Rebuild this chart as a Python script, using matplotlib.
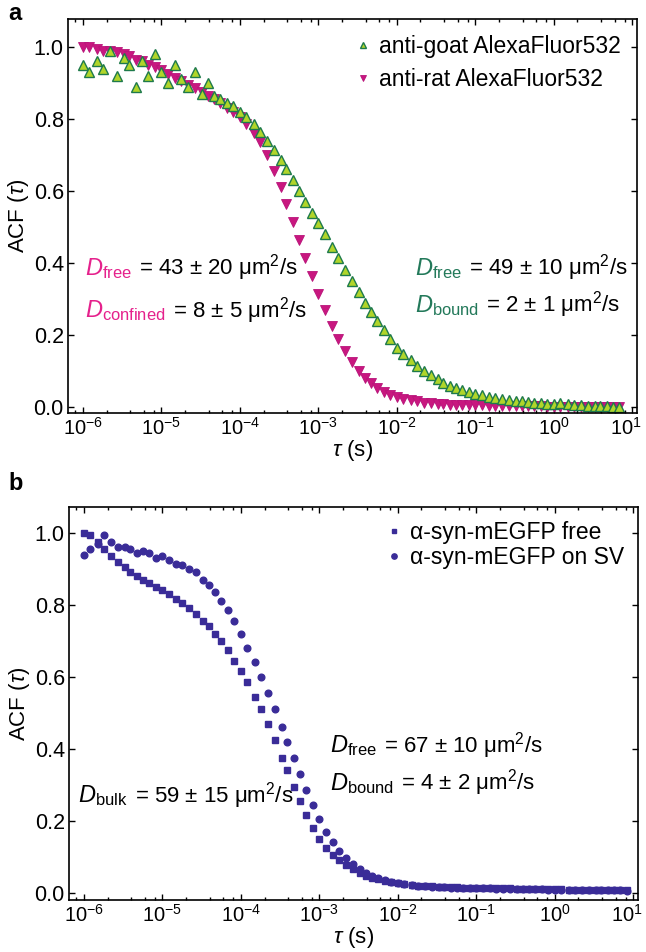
import matplotlib.pyplot as plt
from matplotlib.offsetbox import TextArea, HPacker, AnnotationBbox
from matplotlib.ticker import FixedLocator, NullFormatter, MultipleLocator, LogFormatterSciNotation
from matplotlib.transforms import ScaledTranslation

plt.rcParams['font.family'] = ['Liberation Sans', 'DejaVu Sans']
plt.rcParams['mathtext.fontset'] = 'custom'
plt.rcParams['mathtext.rm'] = 'Liberation Sans'
plt.rcParams['mathtext.it'] = 'Liberation Sans:italic'
plt.rcParams['mathtext.bf'] = 'Liberation Sans:bold'

# lag times (s), 12 points per decade
tau = [
    1.0e-6, 1.2e-6, 1.5e-6, 1.8e-6, 2.2e-6, 2.7e-6, 3.3e-6, 3.9e-6, 4.7e-6, 5.6e-6, 6.8e-6, 8.2e-6,
    1.0e-5, 1.2e-5, 1.5e-5, 1.8e-5, 2.2e-5, 2.7e-5, 3.3e-5, 3.9e-5, 4.7e-5, 5.6e-5, 6.8e-5, 8.2e-5,
    1.0e-4, 1.2e-4, 1.5e-4, 1.8e-4, 2.2e-4, 2.7e-4, 3.3e-4, 3.9e-4, 4.7e-4, 5.6e-4, 6.8e-4, 8.2e-4,
    1.0e-3, 1.2e-3, 1.5e-3, 1.8e-3, 2.2e-3, 2.7e-3, 3.3e-3, 3.9e-3, 4.7e-3, 5.6e-3, 6.8e-3, 8.2e-3,
    1.0e-2, 1.2e-2, 1.5e-2, 1.8e-2, 2.2e-2, 2.7e-2, 3.3e-2, 3.9e-2, 4.7e-2, 5.6e-2, 6.8e-2, 8.2e-2,
    1.0e-1, 1.2e-1, 1.5e-1, 1.8e-1, 2.2e-1, 2.7e-1, 3.3e-1, 3.9e-1, 4.7e-1, 5.6e-1, 6.8e-1, 8.2e-1,
    1.0e0, 1.2e0, 1.5e0, 1.8e0, 2.2e0, 2.7e0, 3.3e0, 3.9e0, 4.7e0, 5.6e0, 6.8e0, 8.2e0,
]
decades = [1e-6, 1e-5, 1e-4, 1e-3, 1e-2, 1e-1, 1e0, 1e1]
minor_ticks = [m * d for d in [1e-7] + decades[:-1] for m in (2, 4, 6, 8)]

# panel a
acf_goat = [
    0.95, 0.93, 0.96, 0.94, 0.99, 0.92, 0.97, 0.95, 0.89, 0.96, 0.92, 0.98,
    0.93, 0.90, 0.95, 0.91, 0.89, 0.93, 0.87, 0.90, 0.865, 0.855, 0.845, 0.835,
    0.82, 0.805, 0.785, 0.765, 0.74, 0.715, 0.685, 0.66, 0.63, 0.60, 0.57, 0.54,
    0.51, 0.48, 0.445, 0.415, 0.38, 0.35, 0.32, 0.29, 0.265, 0.24, 0.215, 0.19,
    0.165, 0.148, 0.13, 0.115, 0.10, 0.088, 0.077, 0.067, 0.059, 0.052, 0.046, 0.04,
    0.036, 0.032, 0.028, 0.025, 0.022, 0.019, 0.017, 0.015, 0.013, 0.011, 0.010, 0.009,
    0.008, 0.010, 0.007, 0.005, 0.004, 0.003, 0.003, 0.002, 0.002, 0.001, 0.001,
]
acf_rat = [
    1.00, 1.00, 0.995, 0.99, 0.99, 0.985, 0.98, 0.975, 0.965, 0.96, 0.95, 0.945,
    0.935, 0.925, 0.915, 0.905, 0.895, 0.885, 0.875, 0.865, 0.855, 0.845, 0.83, 0.82,
    0.805, 0.785, 0.76, 0.735, 0.70, 0.655, 0.61, 0.565, 0.515, 0.465, 0.415, 0.365,
    0.315, 0.27, 0.225, 0.19, 0.155, 0.125, 0.10, 0.08, 0.065, 0.052, 0.042, 0.034,
    0.027, 0.022, 0.018, 0.015, 0.012, 0.010, 0.008, 0.007, 0.006, 0.005, 0.005, 0.004,
    0.004, 0.004, 0.003, 0.003, 0.003, 0.003, 0.002, 0.002, 0.002, 0.002, 0.002, 0.001,
    0.001, 0.001, 0.001, 0.001, 0.001, 0.000, 0.000, 0.000, 0.000, 0.000, 0.000,
]

# panel b
acf_free = [
    1.00, 0.995, 0.975, 0.955, 0.935, 0.92, 0.905, 0.89, 0.88, 0.87, 0.86, 0.85,
    0.84, 0.83, 0.815, 0.805, 0.79, 0.775, 0.755, 0.74, 0.72, 0.70, 0.675, 0.645,
    0.615, 0.585, 0.545, 0.51, 0.47, 0.425, 0.375, 0.34, 0.295, 0.255, 0.215, 0.18,
    0.15, 0.125, 0.105, 0.09, 0.077, 0.065, 0.056, 0.048, 0.042, 0.037, 0.033, 0.029,
    0.026, 0.024, 0.022, 0.020, 0.019, 0.018, 0.017, 0.016, 0.015, 0.015, 0.014, 0.014,
    0.013, 0.013, 0.013, 0.012, 0.012, 0.012, 0.011, 0.011, 0.011, 0.011, 0.010, 0.010,
    0.010, 0.010, 0.009, 0.009, 0.009, 0.009, 0.008, 0.008, 0.008, 0.008, 0.007, 0.007,
]
acf_sv = [
    0.94, 0.955, 0.97, 0.995, 0.975, 0.96, 0.96, 0.955, 0.945, 0.95, 0.945, 0.93,
    0.935, 0.925, 0.915, 0.91, 0.90, 0.89, 0.87, 0.855, 0.835, 0.81, 0.785, 0.755,
    0.72, 0.68, 0.64, 0.60, 0.555, 0.51, 0.46, 0.42, 0.375, 0.33, 0.285, 0.245,
    0.205, 0.17, 0.14, 0.115, 0.097, 0.08, 0.066, 0.056, 0.048, 0.041, 0.035, 0.031,
    0.027, 0.024, 0.022, 0.020, 0.018, 0.017, 0.016, 0.015, 0.014, 0.014, 0.013, 0.013,
    0.012, 0.012, 0.012, 0.011, 0.011, 0.011, 0.011, 0.010, 0.010, 0.010, 0.010, 0.009,
    0.009, 0.009, 0.009, 0.008, 0.008, 0.008, 0.008, 0.007, 0.007, 0.007, 0.007, 0.006,
]

FS = 15.5


def style_axes(ax, ylo, yhi):
    ax.set_xscale('log')
    ax.set_xlim(10 ** -6.19, 10 ** 1.06)
    ax.set_ylim(ylo, yhi)
    ax.xaxis.set_major_locator(FixedLocator(decades))
    ax.xaxis.set_major_formatter(LogFormatterSciNotation())
    ax.xaxis.set_minor_locator(FixedLocator([t for t in minor_ticks if t > 10 ** -6.19]))
    ax.xaxis.set_minor_formatter(NullFormatter())
    ax.yaxis.set_major_locator(MultipleLocator(0.2))
    ax.tick_params(which='both', direction='in', top=True, right=True,
                   labelsize=FS, width=1.0)
    ax.tick_params(axis='x', which='major', labelsize=14.5)
    ax.tick_params(which='major', length=4.5, pad=3)
    ax.tick_params(which='minor', length=2.5)
    for s in ax.spines.values():
        s.set_linewidth(1.2)
    ax.set_xlabel(r'$\tau$ (s)', fontsize=FS + 0.5, labelpad=-1)
    ax.set_ylabel(r'ACF ($\tau$)', fontsize=FS + 0.5, labelpad=2)
    # nudge the 10^1 label so it stays inside the figure
    last = ax.xaxis.get_major_ticks()[-1].label1
    last.set_transform(last.get_transform() + ScaledTranslation(-6 / 100, 0, fig.dpi_scale_trans))


def d_label(ax, x, y, sub, rest, color):
    d = TextArea(r'$D_{\mathrm{%s}}$' % sub, textprops=dict(color=color, fontsize=17))
    r = TextArea(rest, textprops=dict(color='black', fontsize=16))
    box = HPacker(children=[d, r], align='baseline', pad=0, sep=5)
    ab = AnnotationBbox(box, (x, y), xycoords='axes fraction', box_alignment=(0, 0.5),
                        frameon=False, pad=0)
    ax.add_artist(ab)


fig = plt.figure(figsize=(6.46, 9.52), dpi=100)
ax1 = fig.add_axes([68 / 646, 1 - 413 / 952, 569 / 646, 394 / 952])
ax2 = fig.add_axes([69 / 646, 1 - 900 / 952, 569 / 646, 393 / 952])

# --- panel a ---
m_rat, = ax1.plot(tau[:len(acf_rat)], acf_rat, ls='none', marker='v', ms=7.5,
                  mfc='#c8177f', mec='#b8137a', mew=0.6, label='anti-rat AlexaFluor532')
m_goat, = ax1.plot(tau[:len(acf_goat)], acf_goat, ls='none', marker='^', ms=7.5,
                   mfc='#b0d52a', mec='#1e7a4c', mew=1.0, label='anti-goat AlexaFluor532')
style_axes(ax1, -0.017, 1.078)
ax1.legend(handles=[m_goat, m_rat], loc='upper right', frameon=False, fontsize=16.5,
           markerscale=0.55, handlelength=0.8, handletextpad=0.3, labelspacing=0.45,
           borderaxespad=0.5, borderpad=0.2)

pink = '#e5218c'
green = '#23795a'
d_label(ax1, 0.030, 0.368, 'free', '= 43 ± 20 μm$^2$/s', pink)
d_label(ax1, 0.030, 0.261, 'confined', '= 8 ± 5 μm$^2$/s', pink)
d_label(ax1, 0.610, 0.368, 'free', '= 49 ± 10 μm$^2$/s', green)
d_label(ax1, 0.610, 0.274, 'bound', '= 2 ± 1 μm$^2$/s', green)

# --- panel b ---
blue = '#3a2c98'
ax2.plot(tau[:len(acf_free)], acf_free, ls='none', marker='s', ms=4.2,
         mfc=blue, mec=blue, label='α-syn-mEGFP free')
ax2.plot(tau[:len(acf_sv)], acf_sv, ls='none', marker='o', ms=4.8,
         mfc=blue, mec=blue, label='α-syn-mEGFP on SV')
style_axes(ax2, -0.02, 1.072)
ax2.legend(loc='upper right', frameon=False, fontsize=16.5, markerscale=0.8,
           handlelength=0.8, handletextpad=0.3, labelspacing=0.1,
           borderaxespad=0.3, borderpad=0.3)

d_label(ax2, 0.016, 0.267, 'bulk', '= 59 ± 15 μm$^2$/s', 'black')
d_label(ax2, 0.459, 0.394, 'free', '= 67 ± 10 μm$^2$/s', 'black')
d_label(ax2, 0.459, 0.298, 'bound', '= 4 ± 2 μm$^2$/s', 'black')

fig.text(8 / 646, 1 - 14 / 952, 'a', fontsize=17, fontweight='bold', va='center')
fig.text(8 / 646, 1 - 483 / 952, 'b', fontsize=17, fontweight='bold', va='center')

fig.savefig('out.png', dpi=100)
